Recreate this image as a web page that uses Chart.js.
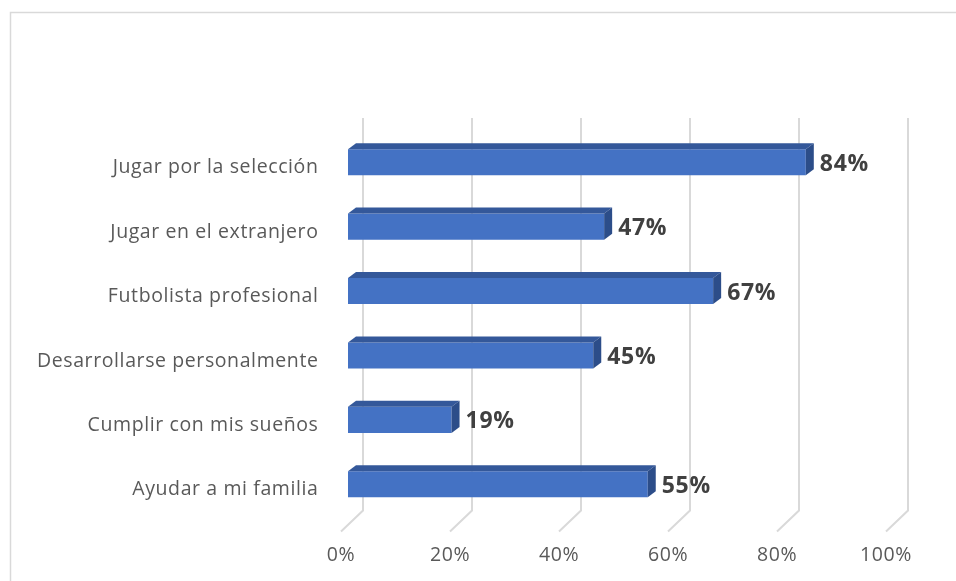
<!DOCTYPE html>
<html>
<head>
<meta charset="utf-8">
<script src="https://cdn.jsdelivr.net/npm/chart.js@4.4.1/dist/chart.umd.min.js"></script>
<style>
  html, body { margin: 0; padding: 0; background: #ffffff; }
  #wrap { width: 956px; height: 581px; }
</style>
</head>
<body>
<div id="wrap"><canvas id="c" width="956" height="581"></canvas></div>
<script>
const categories = [
  "Jugar por la selección",
  "Jugar en el extranjero",
  "Futbolista profesional",
  "Desarrollarse personalmente",
  "Cumplir con mis sueños",
  "Ayudar a mi familia"
];
const values = [84, 47, 67, 45, 19, 55];
const tickValues = [0, 20, 40, 60, 80, 100];

const FONT = "'Open Sans', 'Noto Sans', sans-serif";
const BAR_SHIFT = 7;     // front face of bars within floor depth
const DEPTH_X = 8, DEPTH_Y = 6;   // bar 3D depth
const WALL_X = 22, WALL_Y = 21;   // floor depth

const threeD = {
  id: 'threeD',
  beforeDraw(chart) {
    const ctx = chart.ctx;
    ctx.letterSpacing = '0.6px';
    ctx.save();
    ctx.strokeStyle = '#d9d9d9';
    ctx.lineWidth = 1.5;
    ctx.strokeRect(10.5, 12.5, 1000, 1000);
    ctx.restore();
  },
  beforeDatasetsDraw(chart) {
    const ctx = chart.ctx, xs = chart.scales.x, area = chart.chartArea;
    const floorFront = area.bottom + 15;
    const floorBack = floorFront - WALL_Y;
    const top = area.top - 12;
    ctx.save();
    ctx.strokeStyle = '#d9d9d9';
    ctx.lineWidth = 2;
    tickValues.forEach(v => {
      const px = xs.getPixelForValue(v);
      ctx.beginPath();
      ctx.moveTo(px + WALL_X, top);
      ctx.lineTo(px + WALL_X, floorBack);
      ctx.lineTo(px, floorFront);
      ctx.stroke();
    });
    ctx.restore();
    ctx.save();
    ctx.translate(BAR_SHIFT, 0);
  },
  afterDatasetsDraw(chart) {
    const ctx = chart.ctx;
    const meta = chart.getDatasetMeta(0);
    meta.data.forEach((bar, i) => {
      const p = bar.getProps(['x', 'y', 'base', 'height'], true);
      const t = p.y - p.height / 2, b = p.y + p.height / 2;
      // top face
      ctx.fillStyle = '#34589a';
      ctx.beginPath();
      ctx.moveTo(p.base, t);
      ctx.lineTo(p.base + DEPTH_X, t - DEPTH_Y);
      ctx.lineTo(p.x + DEPTH_X, t - DEPTH_Y);
      ctx.lineTo(p.x, t);
      ctx.closePath();
      ctx.fill();
      // side face
      ctx.fillStyle = '#2c4d89';
      ctx.beginPath();
      ctx.moveTo(p.x, t);
      ctx.lineTo(p.x + DEPTH_X, t - DEPTH_Y);
      ctx.lineTo(p.x + DEPTH_X, b - DEPTH_Y);
      ctx.lineTo(p.x, b);
      ctx.closePath();
      ctx.fill();
      // data label
      ctx.fillStyle = '#404040';
      ctx.font = "bold 23px " + FONT;
      ctx.letterSpacing = '0.7px';
      ctx.textAlign = 'left';
      ctx.textBaseline = 'middle';
      ctx.fillText(values[i] + '%', p.x + DEPTH_X + 6, p.y + 2);
    });
    ctx.restore();
  }
};

new Chart(document.getElementById('c'), {
  type: 'bar',
  data: {
    labels: categories,
    datasets: [{
      data: values,
      backgroundColor: '#4472c4',
      borderWidth: 0,
      categoryPercentage: 1,
      barPercentage: 0.405
    }]
  },
  options: {
    indexAxis: 'y',
    responsive: false,
    animation: false,
    events: [],
    layout: { padding: { left: 0, right: 70, top: 130, bottom: 0 } },
    plugins: { legend: { display: false }, tooltip: { enabled: false } },
    scales: {
      x: {
        min: 0, max: 100,
        afterBuildTicks(scale) { scale.ticks = tickValues.map(v => ({ value: v })); },
        afterFit(scale) { scale.height = 64.5; },
        grid: { display: false, drawTicks: false },
        border: { display: false },
        ticks: {
          padding: 27,
          color: '#595959',
          font: { family: FONT, size: 19.5 },
          callback: v => v + '%'
        }
      },
      y: {
        afterFit(scale) { scale.width = 341; },
        grid: { display: false, drawTicks: false },
        border: { display: false },
        ticks: {
          padding: 22.5,
          labelOffset: 5.5,
          color: '#595959',
          font: { family: FONT, size: 19.5 }
        }
      }
    }
  },
  plugins: [threeD]
});
</script>
</body>
</html>
